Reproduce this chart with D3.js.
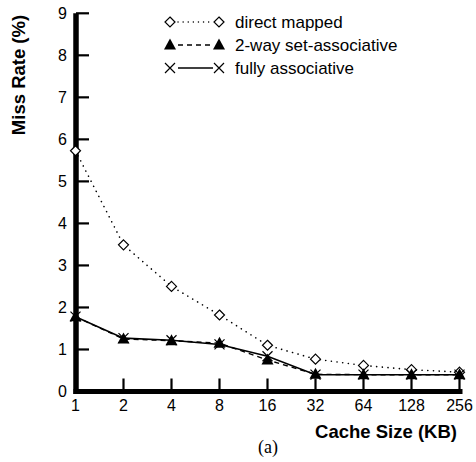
<!DOCTYPE html>
<html><head><meta charset="utf-8">
<script src="https://cdn.jsdelivr.net/npm/d3@7"></script>
<style>body{margin:0;background:#fff}svg{display:block}</style>
</head><body>
<svg id="c" width="476" height="462"></svg>
<script>
const cacheSizes = [1, 2, 4, 8, 16, 32, 64, 128, 256];
const directMapped = [5.73, 3.49, 2.5, 1.82, 1.1, 0.77, 0.62, 0.52, 0.46];
const twoWay = [1.78, 1.25, 1.21, 1.15, 0.75, 0.41, 0.4, 0.4, 0.4];
const fullyAssoc = [1.78, 1.27, 1.22, 1.12, 0.84, 0.4, 0.4, 0.4, 0.4];
const yTicks = [0, 1, 2, 3, 4, 5, 6, 7, 8, 9];
const legendLabels = ["direct mapped", "2-way set-associative", "fully associative"];

const svg = d3.select("#c");
const x = d3.scalePoint().domain(cacheSizes).range([75.5, 459.5]);
const y = d3.scaleLinear().domain([0, 9]).range([391.5, 13.3]);
const font = "Liberation Sans, Arial, sans-serif";

// x ticks (upward)
svg.append("g").selectAll("line").data(cacheSizes).join("line")
  .attr("x1", d => x(d)).attr("x2", d => x(d))
  .attr("y1", y(0)).attr("y2", y(0) - 13)
  .attr("stroke", "#000").attr("stroke-width", 2.2);
// y ticks (rightward)
svg.append("g").selectAll("line").data(yTicks).join("line")
  .attr("x1", 76).attr("x2", 89)
  .attr("y1", d => y(d)).attr("y2", d => y(d))
  .attr("stroke", "#000").attr("stroke-width", 2.2);
// axes
svg.append("line").attr("x1", 76).attr("x2", 76).attr("y1", y(9)).attr("y2", y(0) + 2.5)
  .attr("stroke", "#000").attr("stroke-width", 5.5);
svg.append("line").attr("x1", 73.5).attr("x2", 462.5).attr("y1", y(0)).attr("y2", y(0))
  .attr("stroke", "#000").attr("stroke-width", 5);

// tick labels
svg.append("g").selectAll("text").data(yTicks).join("text")
  .attr("x", 67).attr("y", d => y(d) + 5.5).attr("text-anchor", "end")
  .attr("font-family", font).attr("font-size", 16).text(d => d);
svg.append("g").selectAll("text").data(cacheSizes).join("text")
  .attr("x", d => x(d)).attr("y", 411).attr("text-anchor", "middle")
  .attr("font-family", font).attr("font-size", 16).text(d => d);

// axis titles
svg.append("text").attr("transform", "translate(25,75) rotate(-90)")
  .attr("text-anchor", "middle").attr("font-family", font).attr("font-weight", "bold")
  .attr("font-size", 18.5).text("Miss Rate (%)");
svg.append("text").attr("x", 386).attr("y", 438).attr("text-anchor", "middle")
  .attr("font-family", font).attr("font-weight", "bold").attr("font-size", 18.5)
  .text("Cache Size (KB)");
svg.append("text").attr("x", 268).attr("y", 453).attr("text-anchor", "middle")
  .attr("font-family", "Liberation Serif, Times New Roman, serif").attr("font-size", 18)
  .text("(a)");

const line = d3.line().x((d, i) => x(cacheSizes[i])).y(d => y(d));
const series = [
  {vals: directMapped, dash: "0.1,5.6", marker: "diamond"},
  {vals: twoWay, dash: "5,4", marker: "tri"},
  {vals: fullyAssoc, dash: null, marker: "x"}
];

function drawMarker(g, type, cx, cy) {
  if (type === "diamond") {
    g.append("path").attr("d", `M${cx},${cy-5}L${cx+5},${cy}L${cx},${cy+5}L${cx-5},${cy}Z`)
      .attr("fill", "#fff").attr("stroke", "#000").attr("stroke-width", 1.2);
  } else if (type === "tri") {
    g.append("path").attr("d", `M${cx},${cy-6.5}L${cx+6},${cy+4.5}L${cx-6},${cy+4.5}Z`)
      .attr("fill", "#000");
  } else {
    g.append("path").attr("d", `M${cx-5},${cy-5}L${cx+5},${cy+5}M${cx+5},${cy-5}L${cx-5},${cy+5}`)
      .attr("stroke", "#000").attr("stroke-width", 1.2).attr("fill", "none");
  }
}

series.forEach(s => {
  svg.append("path").attr("d", line(s.vals)).attr("fill", "none")
    .attr("stroke", "#000").attr("stroke-width", s.marker === "x" ? 1.6 : (s.marker === "tri" ? 1.4 : 1.6))
    .attr("stroke-dasharray", s.dash).attr("stroke-linecap", s.marker === "diamond" ? "round" : "butt");
});
series.forEach(s => {
  const g = svg.append("g");
  s.vals.forEach((v, i) => drawMarker(g, s.marker, x(cacheSizes[i]), y(v)));
});

// legend
const legY = [22, 45, 68];
series.forEach((s, i) => {
  const g = svg.append("g");
  g.append("line").attr("x1", 178).attr("x2", 213).attr("y1", legY[i]).attr("y2", legY[i])
    .attr("stroke", "#000").attr("stroke-width", s.marker === "x" ? 1.6 : 1.4)
    .attr("stroke-dasharray", s.marker === "diamond" ? "0.1,5" : s.dash)
    .attr("stroke-linecap", s.marker === "diamond" ? "round" : "butt");
  drawMarker(g, s.marker, 170, legY[i]);
  drawMarker(g, s.marker, 219, legY[i]);
  g.append("text").attr("x", 235).attr("y", legY[i] + 6).attr("font-family", font)
    .attr("font-size", 17).text(legendLabels[i]);
});
</script>
</body></html>
